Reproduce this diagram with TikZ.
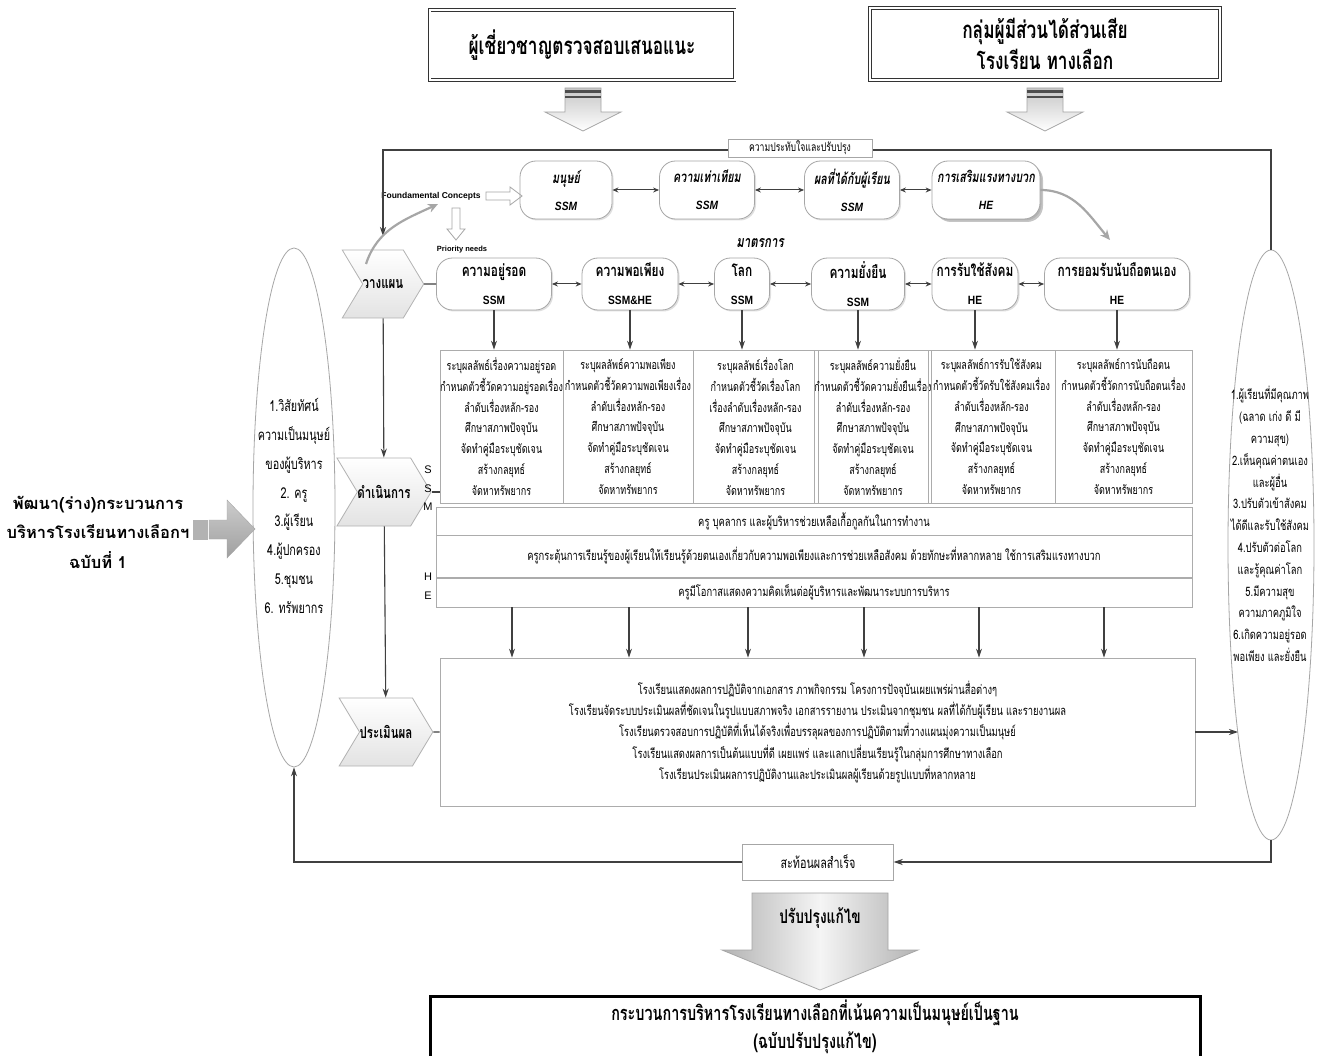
\documentclass[tikz,border=0pt]{standalone}
\usepackage{fontspec}
\setmainfont{Liberation Sans}
\newfontfamily\thai[Script=Thai]{Loma}
\newfontfamily\thaic[Script=Thai,FakeStretch=0.72]{Loma}
\newfontfamily\cond[FakeStretch=0.85]{Liberation Sans}
\usetikzlibrary{arrows.meta, positioning, shapes.geometric, shapes.symbols, shadows}

\begin{document}
\begin{tikzpicture}[x=1pt, y=1pt,
  topbox/.style={draw=black!80, double, double distance=2pt, thick, minimum width=305, minimum height=70, align=center, font=\thaic\bfseries\fontsize{24}{31}\selectfont},
  pill/.style={draw=gray!70, thick, fill=white, rounded corners=16pt, align=center, inner sep=1pt, drop shadow={opacity=0.25, shadow xshift=1.5pt, shadow yshift=-1.5pt}},
  pilltop/.style={pill, minimum height=58, font=\thaic\bfseries\itshape\fontsize{15}{27}\selectfont},
  pillmid/.style={pill, minimum height=52, font=\thaic\bfseries\fontsize{16.5}{28}\selectfont},
  chev/.style={signal, signal from=west, signal to=east, signal pointer angle=118, draw=gray!60, thick, top color=white, bottom color=gray!22, minimum width=70, minimum height=68, inner sep=0pt, font=\thaic\bfseries\fontsize{16}{18}\selectfont},
  measure/.style={draw=gray!65, thick, minimum height=153, align=center, inner sep=0pt, font=\thaic\fontsize{12.5}{20.8}\selectfont},
  rowbox/.style={draw=gray!65, thick, minimum width=756, align=center, inner sep=1pt, font=\thaic\fontsize{13}{15}\selectfont},
  lbl/.style={draw=gray!70, fill=white, inner sep=1pt, font=\thaic\fontsize{12}{13}\selectfont},
  letter/.style={font=\fontsize{11}{13}\selectfont, inner sep=0pt},
  arr/.style={-{Stealth[length=9pt,width=6pt]}, line width=1.1pt, draw=black!75},
  dbl/.style={{Stealth[length=6pt,width=5pt]}-{Stealth[length=6pt,width=5pt]}, line width=1pt, draw=black!75},
  curvy/.style={-{Stealth[length=10pt,width=9pt]}, line width=2.2pt, draw=gray!70},
  blk/.style={draw=gray!70, thick, top color=gray!45, bottom color=white}]

\useasboundingbox[fill=white] (0,0) rectangle (1317,-1056);

\node[topbox] (expert) at (582,-45) {ผู้เชี่ยวชาญตรวจสอบเสนอแนะ};
\node[topbox, minimum width=350, minimum height=72] (stake) at (1045,-44) {กลุ่มผู้มีส่วนได้ส่วนเสีย\\โรงเรียน ทางเลือก};
\draw[blk] (565,-88) -- (601,-88) -- (601,-112) -- (621,-112) -- (583,-131) -- (545,-112) -- (565,-112) -- cycle;
\fill[black!70] (565,-90) rectangle (601,-93);
\fill[black!70] (565,-96) rectangle (601,-98);
\draw[blk] (1027,-88) -- (1063,-88) -- (1063,-112) -- (1083,-112) -- (1045,-131) -- (1007,-112) -- (1027,-112) -- cycle;
\fill[black!70] (1027,-90) rectangle (1063,-93);
\fill[black!70] (1027,-96) rectangle (1063,-98);

\node[pilltop, minimum width=92] (man) at (566,-190) {มนุษย์\\{\cond\fontsize{12}{14}\selectfont SSM}};
\node[pilltop, minimum width=95] (eq) at (707,-190) {ความเท่าเทียม\\{\cond\fontsize{12}{14}\selectfont SSM}};
\node[pilltop, minimum width=95] (res) at (852,-190) {ผลที่ได้กับผู้เรียน\\{\cond\fontsize{12}{14}\selectfont SSM}};
\node[pilltop, minimum width=108, drop shadow={opacity=0.45, shadow xshift=3pt, shadow yshift=-3pt}] (pos) at (986,-190) {การเสริมแรงทางบวก\\{\cond\fontsize{12}{14}\selectfont HE}};
\draw[dbl] (man) -- (eq);
\draw[dbl] (eq) -- (res);
\draw[dbl] (res) -- (pos);

\node[font=\bfseries\fontsize{8.5}{10}\selectfont, inner sep=0pt] (fc) at (431,-196) {Foundamental Concepts};
\draw[gray!70, thick] (486,-192) -- (510,-192) -- (510,-187) -- (522,-196) -- (510,-205) -- (510,-200) -- (486,-200) -- cycle;
\draw[gray!70, thick] (452,-208) -- (460,-208) -- (460,-229) -- (465,-229) -- (456,-240) -- (447,-229) -- (452,-229) -- cycle;
\node[font=\bfseries\fontsize{7.5}{9}\selectfont, inner sep=0pt] (pn) at (462,-250) {Priority needs};
\node[font=\thaic\bfseries\itshape\fontsize{16}{18}\selectfont, inner sep=0pt] (mt) at (760,-243) {มาตรการ};

\node[chev] (plan) at (383,-284) {วางแผน};
\node[chev] (op) at (384,-492) {ดำเนินการ};
\node[chev] (eva) at (386,-732) {ประเมินผล};

\node[pillmid, minimum width=115] (s1) at (494,-284) {ความอยู่รอด\\{\cond\fontsize{12}{14}\selectfont SSM}};
\node[pillmid, minimum width=96] (s2) at (630,-284) {ความพอเพียง\\{\cond\fontsize{12}{14}\selectfont SSM\&HE}};
\node[pillmid, minimum width=55] (s3) at (742,-284) {โลก\\{\cond\fontsize{12}{14}\selectfont SSM}};
\node[pillmid, minimum width=93] (s4) at (858,-284) {ความยั่งยืน\\{\cond\fontsize{12}{14}\selectfont SSM}};
\node[pillmid, minimum width=86] (s5) at (975,-284) {การรับใช้สังคม\\{\cond\fontsize{12}{14}\selectfont HE}};
\node[pillmid, minimum width=145] (s6) at (1117,-284) {การยอมรับนับถือตนเอง\\{\cond\fontsize{12}{14}\selectfont HE}};
\draw[line width=1.1pt, black!75] (plan) -- (s1);
\draw[dbl] (s1) -- (s2);
\draw[dbl] (s2) -- (s3);
\draw[dbl] (s3) -- (s4);
\draw[dbl] (s4) -- (s5);
\draw[dbl] (s5) -- (s6);

\node[measure, minimum width=123] (m1) at (501.5,-426.5) {ระบุผลลัพธ์เรื่องความอยู่รอด\\กำหนดตัวชี้วัดความอยู่รอดเรื่อง\\ลำดับเรื่องหลัก-รอง\\ศึกษาสภาพปัจจุบัน\\จัดทำคู่มือระบุชัดเจน\\สร้างกลยุทธ์\\จัดหาทรัพยากร};
\node[measure, minimum width=130] (m2) at (628,-426.5) {ระบุผลลัพธ์ความพอเพียง\\กำหนดตัวชี้วัดความพอเพียงเรื่อง\\ลำดับเรื่องหลัก-รอง\\ศึกษาสภาพปัจจุบัน\\จัดทำคู่มือระบุชัดเจน\\สร้างกลยุทธ์\\จัดหาทรัพยากร};
\node[measure, minimum width=125] (m3) at (755.5,-426.5) {ระบุผลลัพธ์เรื่องโลก\\กำหนดตัวชี้วัดเรื่องโลก\\เรื่องลำดับเรื่องหลัก-รอง\\ศึกษาสภาพปัจจุบัน\\จัดทำคู่มือระบุชัดเจน\\สร้างกลยุทธ์\\จัดหาทรัพยากร};
\node[measure, minimum width=110] (m4) at (873,-426.5) {ระบุผลลัพธ์ความยั่งยืน\\กำหนดตัวชี้วัดความยั่งยืนเรื่อง\\ลำดับเรื่องหลัก-รอง\\ศึกษาสภาพปัจจุบัน\\จัดทำคู่มือระบุชัดเจน\\สร้างกลยุทธ์\\จัดหาทรัพยากร};
\node[measure, minimum width=127] (m5) at (991.5,-426.5) {ระบุผลลัพธ์การรับใช้สังคม\\กำหนดตัวชี้วัดรับใช้สังคมเรื่อง\\ลำดับเรื่องหลัก-รอง\\ศึกษาสภาพปัจจุบัน\\จัดทำคู่มือระบุชัดเจน\\สร้างกลยุทธ์\\จัดหาทรัพยากร};
\node[measure, minimum width=137] (m6) at (1123.5,-426.5) {ระบุผลลัพธ์การนับถือตน\\กำหนดตัวชี้วัดการนับถือตนเรื่อง\\ลำดับเรื่องหลัก-รอง\\ศึกษาสภาพปัจจุบัน\\จัดทำคู่มือระบุชัดเจน\\สร้างกลยุทธ์\\จัดหาทรัพยากร};
\draw[arr] (s1) -- (s1 |- m1.north);
\draw[arr] (s2) -- (s2 |- m2.north);
\draw[arr] (s3) -- (s3 |- m3.north);
\draw[arr] (s4) -- (s4 |- m4.north);
\draw[arr] (s5) -- (s5 |- m5.north);
\draw[arr] (s6) -- (s6 |- m6.north);

\node[rowbox, minimum height=28] (ra) at (814,-521) {ครู บุคลากร และผู้บริหารช่วยเหลือเกื้อกูลกันในการทำงาน};
\node[rowbox, minimum height=42] (rb) at (814,-556) {ครูกระตุ้นการเรียนรู้ของผู้เรียนให้เรียนรู้ด้วยตนเองเกี่ยวกับความพอเพียงและการช่วยเหลือสังคม ด้วยทักษะที่หลากหลาย ใช้การเสริมแรงทางบวก};
\node[rowbox, minimum height=29] (rc) at (814,-592.5) {ครูมีโอกาสแสดงความคิดเห็นต่อผู้บริหารและพัฒนาระบบการบริหาร};
\node[letter] (ls1) at (428,-470) {S};
\node[letter] (ls2) at (428,-489) {S};
\node[letter] (lm) at (428,-507) {M};
\node[letter] (lh) at (428,-577) {H};
\node[letter] (lhe) at (428,-596) {E};
\draw[line width=1.1pt, black!75] (op.east) -- (op.east -| m1.west);

\node[draw=gray!65, thick, minimum width=755, minimum height=148, align=center, font=\thaic\fontsize{13}{21.2}\selectfont] (ev) at (817.5,-732) {โรงเรียนแสดงผลการปฏิบัติจากเอกสาร ภาพกิจกรรม โครงการปัจจุบันเผยแพร่ผ่านสื่อต่างๆ\\โรงเรียนจัดระบบประเมินผลที่ชัดเจนในรูปแบบสภาพจริง เอกสารรายงาน ประเมินจากชุมชน ผลที่ได้กับผู้เรียน และรายงานผล\\โรงเรียนตรวจสอบการปฏิบัติที่เห็นได้จริงเพื่อบรรลุผลของการปฏิบัติตามที่วางแผนมุ่งความเป็นมนุษย์\\โรงเรียนแสดงผลการเป็นต้นแบบที่ดี เผยแพร่ และแลกเปลี่ยนเรียนรู้ในกลุ่มการศึกษาทางเลือก\\โรงเรียนประเมินผลการปฏิบัติงานและประเมินผลผู้เรียนด้วยรูปแบบที่หลากหลาย};
\coordinate (d1) at (512,-607);
\coordinate (d2) at (629,-607);
\coordinate (d3) at (748,-607);
\coordinate (d4) at (864,-607);
\coordinate (d5) at (979,-607);
\coordinate (d6) at (1104,-607);
\draw[arr] (d1) -- (d1 |- ev.north);
\draw[arr] (d2) -- (d2 |- ev.north);
\draw[arr] (d3) -- (d3 |- ev.north);
\draw[arr] (d4) -- (d4 |- ev.north);
\draw[arr] (d5) -- (d5 |- ev.north);
\draw[arr] (d6) -- (d6 |- ev.north);
\draw[line width=1.1pt, black!75] (eva) -- (ev);
\draw[arr] (plan) -- (op);
\draw[arr] (op) -- (eva);

\node[ellipse, draw=gray!70, thick, minimum width=82, minimum height=519] (le) at (294,-507.5) {};
\node[align=center, font=\thaic\fontsize{15}{28.8}\selectfont] (letext) at (294,-506) {1.วิสัยทัศน์\\ความเป็นมนุษย์\\ของผู้บริหาร\\2. ครู\\3.ผู้เรียน\\4.ผู้ปกครอง\\5.ชุมชน\\6. ทรัพยากร};
\node[ellipse, draw=gray!70, thick, minimum width=86, minimum height=590] (re) at (1271,-545) {};
\node[align=center, font=\thaic\fontsize{13}{21.8}\selectfont] (retext) at (1270,-524) {1.ผู้เรียนที่มีคุณภาพ\\(ฉลาด เก่ง ดี มี\\ความสุข)\\2.เห็นคุณค่าตนเอง\\และผู้อื่น\\3.ปรับตัวเข้าสังคม\\ได้ดีและรับใช้สังคม\\4.ปรับตัวต่อโลก\\และรู้คุณค่าโลก\\5.มีความสุข\\ความภาคภูมิใจ\\6.เกิดความอยู่รอด\\พอเพียง และยั่งยืน};
\coordinate (rein) at (1238,-732);
\draw[arr] (ev) -- (rein);

\node[align=center, font=\thai\bfseries\fontsize{16.5}{29.5}\selectfont] (draft) at (98,-532) {พัฒนา(ร่าง)กระบวนการ\\บริหารโรงเรียนทางเลือกฯ\\ฉบับที่ 1};
\fill[gray!60] (193,-520) rectangle (208,-540);
\draw[gray!70, top color=gray!40, bottom color=gray!75] (209,-520) -- (227,-520) -- (227,-500) -- (255,-529) -- (227,-558) -- (227,-539) -- (209,-539) -- cycle;

\coordinate (fbtop) at (383,-150);
\coordinate (fbend) at (383,-236);
\draw[arr] (re.north) |- (fbtop) -- (fbend);
\node[lbl, minimum width=144, minimum height=18] (imp) at (800,-148) {ความประทับใจและปรับปรุง};

\coordinate (cv1) at (366,-264);
\coordinate (cv2) at (438,-204);
\draw[curvy] (cv1) to[out=72, in=205] (cv2);
\coordinate (cv4) at (1110,-240);
\draw[curvy] (pos.east) to[out=0, in=130] (cv4);

\node[lbl, minimum width=151, minimum height=36, font=\thaic\fontsize{15}{17}\selectfont] (refl) at (818,-862) {สะท้อนผลสำเร็จ};
\draw[arr] (re.south) |- (refl.east);
\draw[arr] (refl.west) -| (le.south);

\draw[draw=gray!70, thick, left color=gray!60, right color=gray!60, middle color=gray!8] (752,-893) -- (888,-893) -- (888,-950) -- (918,-950) -- (820,-990) -- (722,-950) -- (752,-950) -- cycle;
\node[font=\thaic\bfseries\fontsize{19}{21}\selectfont] (fix) at (820,-918) {ปรับปรุงแก้ไข};

\node[draw=black, line width=3pt, minimum width=770, minimum height=60, align=center, font=\thaic\bfseries\fontsize{20}{28}\selectfont] (final) at (815,-1027) {กระบวนการบริหารโรงเรียนทางเลือกที่เน้นความเป็นมนุษย์เป็นฐาน\\(ฉบับปรับปรุงแก้ไข)};
\end{tikzpicture}
\end{document}
